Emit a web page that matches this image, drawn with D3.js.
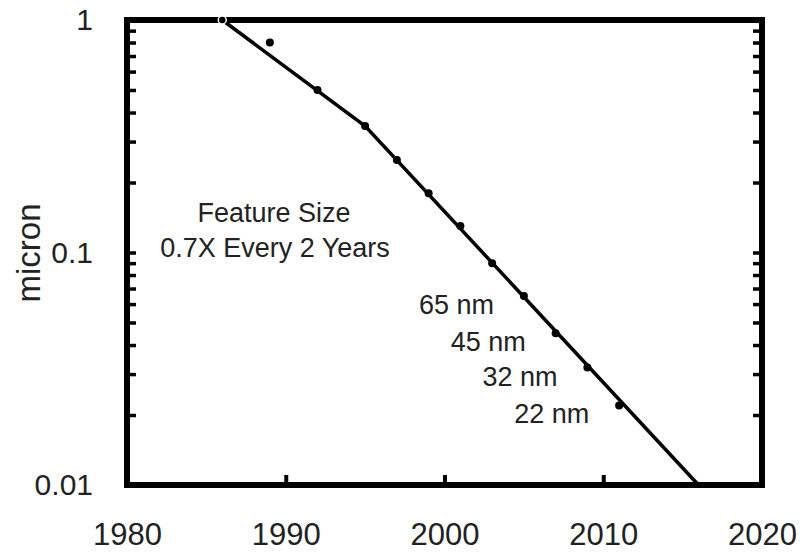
<!DOCTYPE html>
<html>
<head>
<meta charset="utf-8">
<script src="https://d3js.org/d3.v7.min.js"></script>
<style>
  body { margin: 0; background: #fff; }
  text { font-family: "Liberation Sans", Arial, sans-serif; fill: #222; }
</style>
</head>
<body>
<div id="chart"></div>
<script>
// measured feature sizes (micron) by year
var years = [1986, 1989, 1992, 1995, 1997, 1999, 2001, 2003, 2005, 2007, 2009, 2011];
var sizes = [1.0, 0.8, 0.5, 0.35, 0.25, 0.18, 0.13, 0.09, 0.065, 0.045, 0.032, 0.022];

// trend line: 0.7X every 2 years after 1995
var trendYears = [1986, 1995, 2016];
var trendSizes = [1.0, 0.35, 0.01];

var xTicks = [1980, 1990, 2000, 2010, 2020];
var yTickLabels = [1, 0.1, 0.01];

var nodeNames = ["65 nm", "45 nm", "32 nm", "22 nm"];
var nodeYears = [2005, 2007, 2009, 2011];
var nodeSizes = [0.065, 0.045, 0.032, 0.022];

var W = 803, H = 553;
var svg = d3.select("#chart").append("svg").attr("width", W).attr("height", H);

var x = d3.scaleLinear().domain([1980, 2020]).range([127, 762]);
var y = d3.scaleLog().domain([0.01, 1]).range([485, 20]);

// minor log ticks (2..9 in each decade) plus 0.1
var minorTicks = y.ticks().filter(function(d) { return d > 0.01 && d < 1; });

// left inner ticks
var left = svg.append("g").attr("transform", "translate(127,0)")
    .call(d3.axisRight(y).tickValues(minorTicks).tickSize(9).tickFormat(""));
left.select(".domain").remove();
left.selectAll("line").attr("stroke", "#000").attr("stroke-width", 3.5);

// right inner ticks
var right = svg.append("g").attr("transform", "translate(762,0)")
    .call(d3.axisLeft(y).tickValues(minorTicks).tickSize(9).tickFormat(""));
right.select(".domain").remove();
right.selectAll("line").attr("stroke", "#000").attr("stroke-width", 3.5);

// bottom inner ticks
var bottom = svg.append("g").attr("transform", "translate(0,485)")
    .call(d3.axisTop(x).tickValues(xTicks.slice(1, -1)).tickSize(10).tickFormat(""));
bottom.select(".domain").remove();
bottom.selectAll("line").attr("stroke", "#000").attr("stroke-width", 4);

// y labels
var yl = svg.append("g").attr("transform", "translate(127,0)")
    .call(d3.axisLeft(y).tickValues(yTickLabels).tickSize(0).tickPadding(34)
      .tickFormat(function(d) { return String(d); }));
yl.select(".domain").remove();
yl.selectAll("text").style("font-size", "30px").attr("fill", "#222");

// x labels
var xl = svg.append("g").attr("transform", "translate(0,485)")
    .call(d3.axisBottom(x).tickValues(xTicks).tickSize(0).tickPadding(38).tickFormat(d3.format("d")));
xl.select(".domain").remove();
xl.selectAll("text").style("font-size", "31px").attr("fill", "#222");

// frame
svg.append("rect")
  .attr("x", x(1980)).attr("y", y(1))
  .attr("width", x(2020) - x(1980)).attr("height", y(0.01) - y(1))
  .attr("fill", "none").attr("stroke", "#000").attr("stroke-width", 6);

// trend line
var line = d3.line().x(function(d) { return x(d[0]); }).y(function(d) { return y(d[1]); });
svg.append("path")
  .datum(d3.zip(trendYears, trendSizes))
  .attr("d", line)
  .attr("fill", "none").attr("stroke", "#000").attr("stroke-width", 3.5);

// data points
svg.selectAll("circle.pt").data(d3.zip(years, sizes)).enter().append("circle")
  .attr("class", "pt")
  .attr("cx", function(d) { return x(d[0]); })
  .attr("cy", function(d) { return y(d[1]); })
  .attr("r", 4)
  .attr("fill", "#000")
  .attr("stroke", "#fff").attr("stroke-width", function(d, i) { return i === 0 ? 1.5 : 0; });

// annotation
svg.append("text").attr("x", 274).attr("y", 222).attr("text-anchor", "middle")
  .style("font-size", "27px").text("Feature Size");
svg.append("text").attr("x", 275).attr("y", 257).attr("text-anchor", "middle")
  .style("font-size", "27px").text("0.7X Every 2 Years");

// node labels, placed left of their points
svg.selectAll("text.node").data(nodeNames).enter().append("text")
  .attr("class", "node")
  .attr("x", function(d, i) { return x(nodeYears[i]) - 105; })
  .attr("y", function(d, i) { return y(nodeSizes[i]) + 18; })
  .style("font-size", "27px")
  .text(function(d) { return d; });

// y axis title
svg.append("text")
  .attr("transform", "translate(40,253) rotate(-90)")
  .attr("text-anchor", "middle")
  .style("font-size", "33px")
  .text("micron");
</script>
</body>
</html>
